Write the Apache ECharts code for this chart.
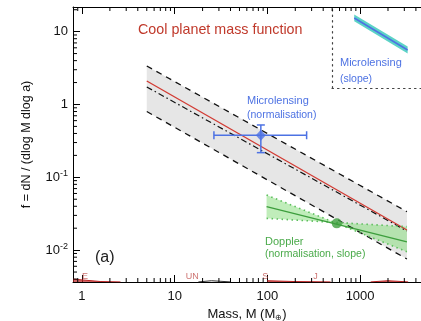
<!DOCTYPE html>
<html><head><meta charset="utf-8">
<script src="https://cdn.jsdelivr.net/npm/echarts@6/dist/echarts.min.js"></script>
<style>html,body{margin:0;padding:0;background:#fff}#c{width:421px;height:321px}</style>
</head><body><div id="c"></div>
<script>
// ---- data ----
const xRange = [0.8, 4540];
const yRange = [0.00365, 21.8];
const bandMass = [5, 3200];
const bandUpper = [3.38, 0.0337];
const bandLower = [0.80, 0.00755];
const bestFit = [2.10, 0.0189];
const altFit = [1.74, 0.0183];
const mlPoint = [85, 0.378];
const mlMassErr = [26.5, 265];
const mlFErr = [0.218, 0.523];
const dopMass = [98, 3200];
const dopSteep = [0.0571, 0.0095];
const dopShallow = [0.0273, 0.0210];
const dopFit = [0.0395, 0.0130];
const dopPoint = [560, 0.0233];
const planetNames = ['E', 'UN', 'S', 'J'];
const planetMasses = [1.08, 15.5, 95, 330];
const planetLabelF = 0.00435;
const floorRedA_M = [0.8, 1.0, 1.6, 2.6];
const floorRedA_F = [0.0040, 0.0039, 0.0037, 0.00366];
const floorBlack_M = [18, 25, 40];
const floorBlack_F = [0.00366, 0.0038, 0.00366];
const floorRedB_M = [100, 200, 480];
const floorRedB_F = [0.0038, 0.0037, 0.00366];
const floorRedC_M = [1300, 2000, 3300];
const floorRedC_F = [0.00366, 0.0038, 0.00366];
const insetX = [2.5, 8.5];
const insetLine = [8.75, 4.75];
const insetUpper = [9.2, 5.2];
const insetLower = [8.35, 4.3];
const minorMult = [2, 3, 4, 5, 6, 7, 8, 9];

const xMinor = [0.9];
[1, 10, 100, 1000].forEach(d => minorMult.forEach(m => { if (d * m < xRange[1]) xMinor.push(d * m); }));
const yMinor = [];
[0.001, 0.01, 0.1, 1, 10].forEach(d => minorMult.forEach(m => { const v = d * m; if (v > yRange[0] && v < yRange[1]) yMinor.push(v); }));

const RED = '#d23a32', TITLE = '#c0392b', BLUE = '#4d72e3', GREEN = '#3d9e3d', LGREEN = '#5cbf5c';
const FONT = '"Liberation Sans", Arial, sans-serif';

function isPow10(v) { const l = Math.log10(v); return Math.abs(l - Math.round(l)) < 1e-6; }

const chart = echarts.init(document.getElementById('c'), null, { renderer: 'canvas' });

const logAxisCommon = {
  type: 'log', logBase: 10,
  axisLine: { show: true, lineStyle: { color: '#000', width: 1 } },
  axisTick: { show: true, inside: true, length: 7, lineStyle: { color: '#000' } },
  splitLine: { show: false }, minorTick: { show: false }, minorSplitLine: { show: false }
};

const line2 = (xs, ys) => xs.map((x, i) => [x, ys[i]]);

const option = {
  animation: false,
  textStyle: { fontFamily: FONT },
  grid: [
    { left: 73, top: 7, right: 0, bottom: 39, containLabel: false, outerBoundsMode: 'none' },
    { left: 332, top: 8, right: 0, height: 80, containLabel: false, outerBoundsMode: 'none' }
  ],
  xAxis: [
    Object.assign({}, logAxisCommon, {
      gridIndex: 0, position: 'bottom', min: xRange[0], max: xRange[1],
      axisLabel: { show: true, margin: 8, color: '#111', fontSize: 13, fontFamily: FONT, showMinLabel: false, showMaxLabel: false,
        formatter: v => isPow10(v) ? String(Math.round(Math.pow(10, Math.round(Math.log10(v))))) : '' },
      name: 'Mass, M (M{sub|⊕})', nameLocation: 'middle', nameGap: 22,
      nameTextStyle: { color: '#111', fontSize: 13, fontFamily: FONT, rich: { sub: { fontSize: 8, padding: [6, 0, 0, 0], color: '#111' } } }
    }),
    Object.assign({}, logAxisCommon, {
      gridIndex: 0, position: 'top', min: xRange[0], max: xRange[1],
      axisLabel: { show: false }
    }),
    { type: 'value', gridIndex: 1, min: 0, max: 10, position: 'bottom',
      axisLine: { show: true, lineStyle: { color: '#444', type: [1.5, 4], width: 1.2 } },
      axisTick: { show: false }, axisLabel: { show: false }, splitLine: { show: false } }
  ],
  yAxis: [
    Object.assign({}, logAxisCommon, {
      gridIndex: 0, min: yRange[0], max: yRange[1],
      axisLabel: { show: true, margin: 5, color: '#111', fontSize: 13, fontFamily: FONT, showMinLabel: false, showMaxLabel: false,
        formatter: v => {
          if (!isPow10(v)) return '';
          const e = Math.round(Math.log10(v));
          if (e === 0) return '1';
          if (e === 1) return '10';
          return '10{sup|' + e + '}';
        },
        rich: { sup: { fontSize: 9, padding: [0, 0, 7, 0], color: '#111' } } },
      name: 'f = dN / (dlog M dlog a)', nameLocation: 'middle', nameGap: 40, nameRotate: 90,
      nameTextStyle: { color: '#111', fontSize: 12.5, fontFamily: FONT }
    }),
    { type: 'value', gridIndex: 1, min: 0, max: 10,
      axisLine: { show: true, lineStyle: { color: '#444', type: [1.5, 4], width: 1.2 } },
      axisTick: { show: false }, axisLabel: { show: false }, splitLine: { show: false } }
  ],
  series: [
    // grey confidence band
    { type: 'custom', xAxisIndex: 0, yAxisIndex: 0, silent: true, z: 1,
      data: [[bandMass[0], bandUpper[0]]],
      renderItem: (p, api) => {
        const pts = [];
        bandMass.forEach((m, i) => pts.push(api.coord([m, bandUpper[i]])));
        for (let i = bandMass.length - 1; i >= 0; i--) pts.push(api.coord([bandMass[i], bandLower[i]]));
        return { type: 'polygon', shape: { points: pts }, style: { fill: '#e6e6e6' } };
      } },
    // Doppler bow-tie band
    { type: 'custom', xAxisIndex: 0, yAxisIndex: 0, silent: true, z: 2,
      data: [[dopMass[0], dopSteep[0]]],
      renderItem: (p, api) => {
        const pts = [api.coord([dopMass[0], dopSteep[0]]), api.coord([dopMass[1], dopSteep[1]]),
                     api.coord([dopMass[1], dopShallow[1]]), api.coord([dopMass[0], dopShallow[0]])];
        return { type: 'polygon', shape: { points: pts }, style: { fill: 'rgba(140,222,130,0.55)' } };
      } },
    { type: 'line', xAxisIndex: 0, yAxisIndex: 0, data: line2(bandMass, bandUpper), symbol: 'none', z: 3,
      lineStyle: { color: '#111', width: 1.3, type: [6, 5] } },
    { type: 'line', xAxisIndex: 0, yAxisIndex: 0, data: line2(bandMass, bandLower), symbol: 'none', z: 3,
      lineStyle: { color: '#111', width: 1.3, type: [6, 5] } },
    { type: 'line', xAxisIndex: 0, yAxisIndex: 0, data: line2(bandMass, altFit), symbol: 'none', z: 3,
      lineStyle: { color: '#111', width: 1.2, type: [6, 3, 1.5, 3] } },
    { type: 'line', xAxisIndex: 0, yAxisIndex: 0, data: line2(bandMass, bestFit), symbol: 'none', z: 4,
      lineStyle: { color: RED, width: 1.3 } },
    // Doppler lines
    { type: 'line', xAxisIndex: 0, yAxisIndex: 0, data: line2(dopMass, dopSteep), symbol: 'none', z: 5,
      lineStyle: { color: LGREEN, width: 1.6, type: [1.5, 3.5] } },
    { type: 'line', xAxisIndex: 0, yAxisIndex: 0, data: line2(dopMass, dopShallow), symbol: 'none', z: 5,
      lineStyle: { color: LGREEN, width: 1.6, type: [1.5, 3.5] } },
    { type: 'line', xAxisIndex: 0, yAxisIndex: 0, data: line2(dopMass, dopFit), symbol: 'none', z: 5,
      lineStyle: { color: GREEN, width: 1.4 } },
    { type: 'scatter', xAxisIndex: 0, yAxisIndex: 0, data: [dopPoint], symbol: 'circle', symbolSize: 10, z: 6,
      itemStyle: { color: GREEN } },
    // Microlensing error bars
    { type: 'custom', xAxisIndex: 0, yAxisIndex: 0, silent: true, z: 6,
      data: [mlPoint],
      renderItem: (p, api) => {
        const l = api.coord([mlMassErr[0], mlPoint[1]]), r = api.coord([mlMassErr[1], mlPoint[1]]);
        const b = api.coord([mlPoint[0], mlFErr[0]]), t = api.coord([mlPoint[0], mlFErr[1]]);
        const st = { stroke: BLUE, lineWidth: 1.5 }; const c = 4;
        const ln = (x1, y1, x2, y2) => ({ type: 'line', shape: { x1, y1, x2, y2 }, style: st });
        return { type: 'group', children: [
          ln(l[0], l[1], r[0], r[1]), ln(l[0], l[1] - c, l[0], l[1] + c), ln(r[0], r[1] - c, r[0], r[1] + c),
          ln(b[0], b[1], t[0], t[1]), ln(b[0] - c, b[1], b[0] + c, b[1]), ln(t[0] - c, t[1], t[0] + c, t[1])
        ] };
      } },
    { type: 'scatter', xAxisIndex: 0, yAxisIndex: 0, data: [mlPoint], symbol: 'diamond', symbolSize: [10, 11], z: 7,
      itemStyle: { color: BLUE } },
    // floor distributions and planet letters
    { type: 'line', xAxisIndex: 0, yAxisIndex: 0, data: line2(floorRedA_M, floorRedA_F), symbol: 'none', z: 3,
      lineStyle: { color: '#b22', width: 1 }, areaStyle: { color: '#b22', origin: 'start' } },
    { type: 'line', xAxisIndex: 0, yAxisIndex: 0, data: line2(floorBlack_M, floorBlack_F), symbol: 'none', z: 3,
      lineStyle: { color: '#333', width: 1 } },
    { type: 'line', xAxisIndex: 0, yAxisIndex: 0, data: line2(floorRedB_M, floorRedB_F), symbol: 'none', z: 3,
      lineStyle: { color: '#b22', width: 1 }, areaStyle: { color: '#b22', origin: 'start' } },
    { type: 'line', xAxisIndex: 0, yAxisIndex: 0, data: line2(floorRedC_M, floorRedC_F), symbol: 'none', z: 3,
      lineStyle: { color: '#b22', width: 1 }, areaStyle: { color: '#b22', origin: 'start' } },
    { type: 'scatter', xAxisIndex: 0, yAxisIndex: 0, symbolSize: 0, z: 8,
      data: planetMasses.map((m, i) => ({ value: [m, planetLabelF], name: planetNames[i] })),
      label: { show: true, position: 'inside', formatter: p => p.name, color: '#c0504d', fontSize: 9, fontFamily: FONT } },
    // minor ticks
    { type: 'custom', xAxisIndex: 0, yAxisIndex: 0, silent: true, z: 9,
      data: xMinor.map(v => [v, yRange[0]]),
      renderItem: (p, api) => {
        const v = api.value(0);
        const b = api.coord([v, yRange[0]]), t = api.coord([v, yRange[1]]);
        const st = { stroke: '#000', lineWidth: 1 };
        return { type: 'group', children: [
          { type: 'line', shape: { x1: b[0], y1: b[1], x2: b[0], y2: b[1] - 4 }, style: st },
          { type: 'line', shape: { x1: t[0], y1: t[1], x2: t[0], y2: t[1] + 4 }, style: st }
        ] };
      } },
    { type: 'custom', xAxisIndex: 0, yAxisIndex: 0, silent: true, z: 9,
      data: yMinor.map(v => [xRange[0], v]),
      renderItem: (p, api) => {
        const v = api.value(1);
        const a = api.coord([xRange[0], v]);
        return { type: 'line', shape: { x1: a[0], y1: a[1], x2: a[0] + 4, y2: a[1] }, style: { stroke: '#000', lineWidth: 1 } };
      } },
    // inset (slope)
    { type: 'custom', xAxisIndex: 2, yAxisIndex: 1, silent: true, z: 2,
      data: [[insetX[0], insetLine[0]]],
      renderItem: (p, api) => {
        const pts = [api.coord([insetX[0], insetUpper[0]]), api.coord([insetX[1], insetUpper[1]]),
                     api.coord([insetX[1], insetLower[1]]), api.coord([insetX[0], insetLower[0]])];
        return { type: 'polygon', shape: { points: pts }, style: { fill: '#5cd3c6' } };
      } },
    { type: 'line', xAxisIndex: 2, yAxisIndex: 1, data: line2(insetX, insetLine), symbol: 'none', z: 3,
      lineStyle: { color: BLUE, width: 1.5 } }
  ],
  graphic: [
    { type: 'text', x: 138, y: 30, style: { text: 'Cool planet mass function', fill: TITLE, font: '14.3px ' + FONT, verticalAlign: 'middle' } },
    { type: 'text', x: 247, y: 101, style: { text: 'Microlensing', fill: BLUE, font: '11px ' + FONT, verticalAlign: 'middle' } },
    { type: 'text', x: 247, y: 115, style: { text: '(normalisation)', fill: BLUE, font: '10.5px ' + FONT, verticalAlign: 'middle' } },
    { type: 'text', x: 340, y: 63, style: { text: 'Microlensing', fill: BLUE, font: '11px ' + FONT, verticalAlign: 'middle' } },
    { type: 'text', x: 340, y: 79, style: { text: '(slope)', fill: BLUE, font: '10.5px ' + FONT, verticalAlign: 'middle' } },
    { type: 'text', x: 265, y: 242, style: { text: 'Doppler', fill: '#4aaa4a', font: '11px ' + FONT, verticalAlign: 'middle' } },
    { type: 'text', x: 265, y: 254, style: { text: '(normalisation, slope)', fill: '#4aaa4a', font: '10.5px ' + FONT, verticalAlign: 'middle' } },
    { type: 'text', x: 95, y: 258, style: { text: '(a)', fill: '#222', font: '16px ' + FONT, verticalAlign: 'middle' } }
  ]
};
chart.setOption(option);
</script>
</body></html>
